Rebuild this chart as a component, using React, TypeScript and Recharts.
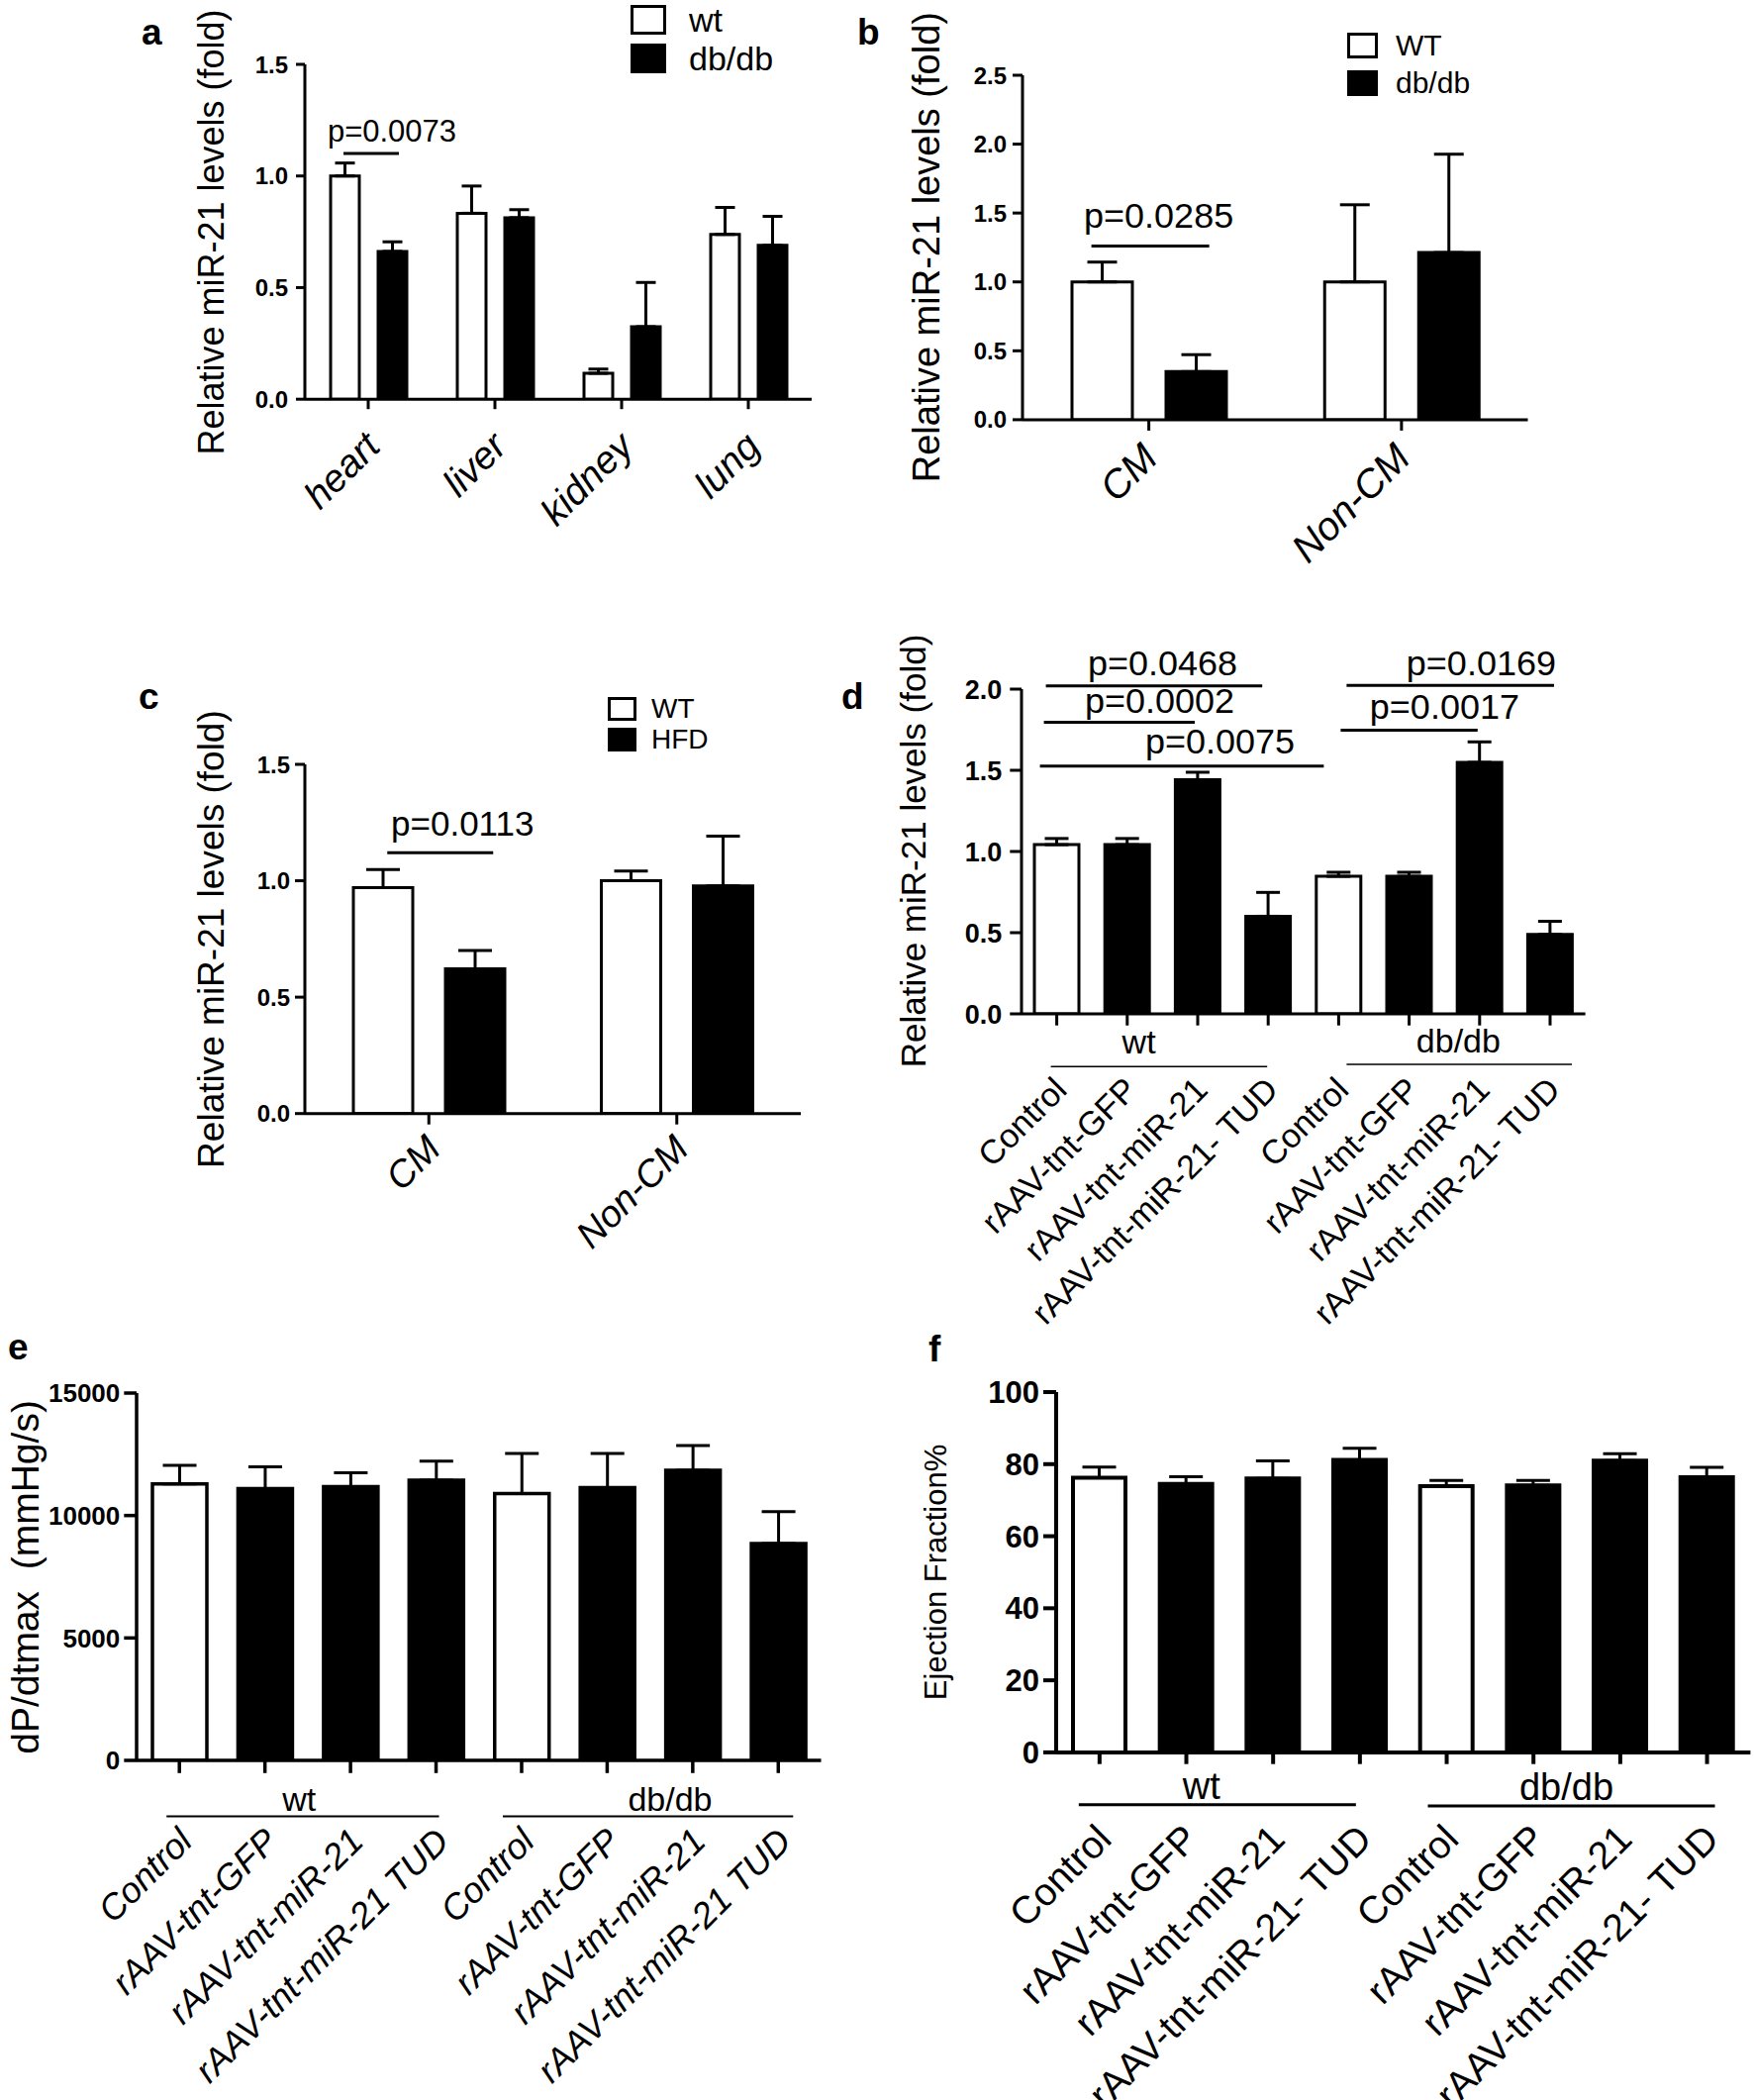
import React from 'react';
import { BarChart, Bar, XAxis, YAxis, ErrorBar, Cell, ReferenceLine, Legend } from 'recharts';

const FONT = '"Liberation Sans", Arial, Helvetica, sans-serif';

// a — miR-21 by organ (mean, upper SEM)
const organs = ['heart', 'liver', 'kidney', 'lung'];
const organWt = [1.0, 0.833, 0.116, 0.738];
const organWtSem = [0.058, 0.122, 0.019, 0.121];
const organDb = [0.662, 0.813, 0.325, 0.689];
const organDbSem = [0.043, 0.036, 0.198, 0.13];

// b — CM vs non-CM, db/db
const cellTypes = ['CM', 'Non-CM'];
const cellWtB = [1.0, 1.0];
const cellWtSemB = [0.144, 0.56];
const cellDbB = [0.349, 1.213];
const cellDbSemB = [0.123, 0.714];

// c — CM vs non-CM, HFD
const cellWtC = [0.971, 1.0];
const cellWtSemC = [0.077, 0.042];
const cellHfdC = [0.622, 0.978];
const cellHfdSemC = [0.078, 0.214];

// d, e, f — rAAV treatments
const groups = ['wt', 'db/db'];
const treatments = ['Control', 'rAAV-tnt-GFP', 'rAAV-tnt-miR-21', 'rAAV-tnt-miR-21- TUD'];
const treatmentsE = ['Control', 'rAAV-tnt-GFP', 'rAAV-tnt-miR-21', 'rAAV-tnt-miR-21 TUD'];
const mirLevel = [1.042, 1.042, 1.442, 0.601, 0.847, 0.847, 1.549, 0.489];
const mirLevelSem = [0.038, 0.038, 0.046, 0.147, 0.025, 0.025, 0.126, 0.081];
const dpdtMax = [11290, 11100, 11175, 11440, 10896, 11134, 11849, 8852];
const dpdtMaxSem = [763, 885, 572, 783, 1634, 1396, 1008, 1311];
const ejection = [76.2, 74.5, 76.0, 81.2, 73.9, 74.1, 81.0, 76.4];
const ejectionSem = [3.0, 2.0, 4.9, 3.2, 1.6, 1.4, 1.9, 2.7];

const ticksA = [0, 0.5, 1.0, 1.5];
const ticksB = [0, 0.5, 1.0, 1.5, 2.0, 2.5];
const ticksD = [0, 0.5, 1.0, 1.5, 2.0];
const ticksE = [0, 5000, 10000, 15000];
const ticksF = [0, 20, 40, 60, 80, 100];

const groupedRows = (cats: string[], a: number[], aSem: number[], b: number[], bSem: number[]) =>
  cats.map((c, i) => ({ key: c, a: a[i], aErr: [0, aSem[i]], b: b[i], bErr: [0, bSem[i]] }));

const treatRows = (names: string[], vals: number[], sems: number[]) =>
  groups.flatMap((g, gi) =>
    names.map((t, ti) => {
      const i = gi * names.length + ti;
      return { key: `${g}|${t}`, label: t, v: vals[i], err: [0, sems[i]], ctrl: ti === 0 };
    })
  );

const rowsA = groupedRows(organs, organWt, organWtSem, organDb, organDbSem);
const rowsB = groupedRows(cellTypes, cellWtB, cellWtSemB, cellDbB, cellDbSemB);
const rowsC = groupedRows(cellTypes, cellWtC, cellWtSemC, cellHfdC, cellHfdSemC);
const rowsD = treatRows(treatments, mirLevel, mirLevelSem);
const rowsE = treatRows(treatmentsE, dpdtMax, dpdtMaxSem);
const rowsF = treatRows(treatments, ejection, ejectionSem);

// significance bars and group underlines: category index from/to, y in data units,
// d1/d2 = nudge of the ends off the category centre, tdx = text centre from the "from" centre
const sigA = [{ from: 0, to: 0, d1: -25, d2: 31, y: 1.101, text: 'p=0.0073', tdx: 24, gap: 12 }];
const sigB = [{ from: 0, to: 0, d1: -58, d2: 61, y: 1.26, text: 'p=0.0285', tdx: 10, gap: 19 }];
const sigC = [{ from: 0, to: 0, d1: -42, d2: 65, y: 1.12, text: 'p=0.0113', tdx: 34, gap: 17 }];
const sigD = [
  { from: 0, to: 3, d1: -11, d2: -6, y: 2.02, text: 'p=0.0468', tdx: 107, gap: 11 },
  { from: 0, to: 2, d1: -13, d2: -3, y: 1.796, text: 'p=0.0002', tdx: 104, gap: 9 },
  { from: 0, to: 4, d1: -17, d2: -15, y: 1.526, text: 'p=0.0075', tdx: 165, gap: 13 },
  { from: 4, to: 7, d1: 8, d2: 4, y: 2.023, text: 'p=0.0169', tdx: 144, gap: 10 },
  { from: 4, to: 6, d1: 2, d2: -2, y: 1.747, text: 'p=0.0017', tdx: 107, gap: 11 },
];
const grpD = [
  { from: 0, to: 3, d1: -6, d2: -1, y: -0.325, text: 'wt', tdx: 83, gap: 13 },
  { from: 4, to: 7, d1: 8, d2: 22, y: -0.311, text: 'db/db', tdx: 121, gap: 12 },
];
const grpE = [
  { from: 0, to: 3, d1: -13, d2: 3, y: -2288, text: 'wt', tdx: 121, gap: 6 },
  { from: 4, to: 7, d1: -19, d2: 15, y: -2288, text: 'db/db', tdx: 150, gap: 6 },
];
const grpF = [
  { from: 0, to: 3, d1: -21, d2: -4, y: -14.5, text: 'wt', tdx: 103, gap: 6 },
  { from: 4, to: 7, d1: -19, d2: 8, y: -14.9, text: 'db/db', tdx: 121, gap: 6 },
];

type Frame = { axisX: number; top: number; bottom: number; right: number; yw: number; mt: number; xh: number; mr: number };

const fA: Frame = { axisX: 308, top: 65.4, bottom: 403.6, right: 820, yw: 120, mt: 62, xh: 135, mr: 10 };
const fB: Frame = { axisX: 1033, top: 75.7, bottom: 423.6, right: 1543.5, yw: 120, mt: 72, xh: 160, mr: 10 };
const fC: Frame = { axisX: 308, top: 772.2, bottom: 1124.9, right: 809, yw: 120, mt: 75, xh: 170, mr: 10 };
const fD: Frame = { axisX: 1032.4, top: 695.5, bottom: 1023.5, right: 1602, yw: 130, mt: 60, xh: 340, mr: 40 };
const fE: Frame = { axisX: 137.5, top: 1407.4, bottom: 1778.4, right: 829, yw: 137, mt: 30, xh: 342, mr: 10 };
const fF: Frame = { axisX: 1066.6, top: 1406, bottom: 1769.9, right: 1768, yw: 145, mt: 30, xh: 351, mr: 4 };

const oneDec = (v: number) => v.toFixed(1);
const plain = (v: number) => String(v);

function rotTick(dx: number, dy: number, size: number, italic: boolean, useLabel: boolean) {
  return (props: any) => {
    const { x, y, payload } = props;
    const v = useLabel ? String(payload.value).split('|')[1] : payload.value;
    return (
      <text
        transform={`translate(${x + dx},${y + dy}) rotate(-45)`}
        textAnchor="end"
        fontSize={size}
        fontStyle={italic ? 'italic' : 'normal'}
        fontFamily={FONT}
        fill="#000"
      >
        {v}
      </text>
    );
  };
}

function sigLabel(text: string, tdx: number, gap: number, size: number) {
  return (props: any) => {
    const vb = props.viewBox || { x: 0, y: 0 };
    return (
      <text x={vb.x + tdx} y={vb.y - gap} textAnchor="middle" fontSize={size} fontFamily={FONT} fill="#000">
        {text}
      </text>
    );
  };
}

function sigLines(list: any[], rows: any[], size: number, lw: number) {
  return list.map((s, i) => (
    <ReferenceLine
      key={`sig${s.text}${i}`}
      segment={[{ x: rows[s.from].key, y: s.y }, { x: rows[s.to].key, y: s.y }]}
      ifOverflow="visible"
      shape={(p: any) => (
        <line x1={p.x1 + s.d1} y1={p.y1} x2={p.x2 + s.d2} y2={p.y2} stroke="#000" strokeWidth={lw} />
      )}
      label={sigLabel(s.text, s.tdx, s.gap, size)}
    />
  ));
}

function legendBox(w: number, h: number, pitch: number, gapText: number, size: number) {
  return (props: any) => {
    const items = [...(props.payload || [])].sort((p: any, q: any) => String(p.dataKey).localeCompare(String(q.dataKey)));
    return (
      <div style={{ fontFamily: FONT, fontSize: size, lineHeight: 1, color: '#000' }}>
        {items.map((p: any) => (
          <div key={p.value} style={{ display: 'flex', alignItems: 'center', height: h, marginBottom: pitch - h }}>
            <div
              style={{
                width: w,
                height: h,
                boxSizing: 'border-box',
                border: '3px solid #000',
                background: (p.payload && p.payload.fill) || p.color,
              }}
            />
            <span style={{ marginLeft: gapText }}>{p.value}</span>
          </div>
        ))}
      </div>
    );
  };
}

type AxisCfg = {
  lw: number;
  xTick: number;
  yTick: number;
  tickGap: number;
  tickFont: number;
  max: number;
  ticks: number[];
  fmt: (v: number) => string;
  lab: { dx: number; dy: number; size: number; italic: boolean; useLabel: boolean };
};

function axes(f: Frame, c: AxisCfg) {
  const line = { stroke: '#000', strokeWidth: c.lw };
  return [
    <XAxis
      key="x"
      dataKey="key"
      interval={0}
      height={f.xh}
      axisLine={line}
      tickLine={line}
      tickSize={c.xTick}
      tickMargin={2}
      tick={rotTick(c.lab.dx, c.lab.dy, c.lab.size, c.lab.italic, c.lab.useLabel)}
    />,
    <YAxis
      key="y"
      width={f.yw}
      domain={[0, c.max]}
      ticks={c.ticks}
      interval={0}
      allowDataOverflow
      axisLine={line}
      tickLine={line}
      tickSize={c.yTick}
      tickMargin={c.tickGap}
      tickFormatter={c.fmt}
      tick={{ fill: '#000', fontSize: c.tickFont, fontWeight: 700, fontFamily: FONT }}
    />,
  ];
}

function Frame({ f, data, barSize, barGap, children }: any) {
  const width = f.right - f.axisX + f.yw + f.mr;
  const height = f.mt + (f.bottom - f.top) + f.xh;
  return (
    <div style={{ position: 'absolute', left: f.axisX - f.yw, top: f.top - f.mt }}>
      <BarChart
        width={width}
        height={height}
        data={data}
        margin={{ top: f.mt, right: f.mr, left: 0, bottom: 0 }}
        barSize={barSize}
        barGap={barGap}
      >
        {children}
      </BarChart>
    </div>
  );
}

function groupedBars(names: string[], size: number, cap: number, lw: number) {
  return [
    <Bar key="a" dataKey="a" name={names[0]} fill="#fff" stroke="#000" strokeWidth={lw} barSize={size} isAnimationActive={false}>
      <ErrorBar dataKey="aErr" width={cap} stroke="#000" strokeWidth={3} direction="y" />
    </Bar>,
    <Bar key="b" dataKey="b" name={names[1]} fill="#000" stroke="#000" strokeWidth={lw} barSize={size} isAnimationActive={false}>
      <ErrorBar dataKey="bErr" width={cap} stroke="#000" strokeWidth={3} direction="y" />
    </Bar>,
  ];
}

function treatBars(rows: any[], size: number, cap: number, lw: number) {
  return (
    <Bar key="v" dataKey="v" stroke="#000" strokeWidth={lw} barSize={size} isAnimationActive={false}>
      {rows.map((r) => (
        <Cell key={r.key} fill={r.ctrl ? '#fff' : '#000'} />
      ))}
      <ErrorBar dataKey="err" width={cap} stroke="#000" strokeWidth={3} direction="y" />
    </Bar>
  );
}

function legendAt(left: number, top: number, content: any) {
  return (
    <Legend
      key="legend"
      verticalAlign="middle"
      align="center"
      layout="horizontal"
      content={content}
      wrapperStyle={{ left, top, width: 260, height: 90 }}
    />
  );
}

const titles = [
  { f: fA, dist: 95, size: 36, text: 'Relative miR-21 levels (fold)' },
  { f: fB, dist: 97, size: 38, text: 'Relative miR-21 levels (fold)' },
  { f: fC, dist: 95, size: 37, text: 'Relative miR-21 levels (fold)' },
  { f: fD, dist: 110, size: 35, text: 'Relative miR-21 levels (fold)' },
  { f: fE, dist: 112, size: 39, text: 'dP/dtmax  (mmHg/s)' },
  { f: fF, dist: 121, size: 31, text: 'Ejection Fraction%' },
];

const letters = [
  { t: 'a', x: 143, y: 45 },
  { t: 'b', x: 866, y: 45 },
  { t: 'c', x: 140, y: 716 },
  { t: 'd', x: 850, y: 716 },
  { t: 'e', x: 8, y: 1373 },
  { t: 'f', x: 938, y: 1375 },
];

export default function App() {
  return (
    <div style={{ position: 'absolute', left: 0, top: 0, width: 1772, height: 2121, background: '#fff', overflow: 'hidden' }}>
      <Frame f={fA} data={rowsA} barSize={29} barGap={19}>
        {axes(fA, { lw: 3, xTick: 10, yTick: 9, tickGap: 8, tickFont: 24, max: 1.5, ticks: ticksA, fmt: oneDec, lab: { dx: 14, dy: 38, size: 39, italic: true, useLabel: false } })}
        {legendAt(449, 2, legendBox(36, 30, 38.5, 23, 34))}
        {groupedBars(['wt', 'db/db'], 29, 10, 3)}
        {sigLines(sigA, rowsA, 31, 3)}
      </Frame>

      <Frame f={fB} data={rowsB} barSize={61} barGap={34}>
        {axes(fB, { lw: 3, xTick: 11, yTick: 10, tickGap: 6, tickFont: 24, max: 2.5, ticks: ticksB, fmt: oneDec, lab: { dx: 11, dy: 28, size: 40, italic: true, useLabel: false } })}
        {legendAt(448, 29, legendBox(31, 26, 38.5, 18, 30))}
        {groupedBars(['WT', 'db/db'], 61, 15, 3)}
        {sigLines(sigB, rowsB, 36, 3)}
      </Frame>

      <Frame f={fC} data={rowsC} barSize={60} barGap={33}>
        {axes(fC, { lw: 3, xTick: 11, yTick: 10, tickGap: 5, tickFont: 24, max: 1.5, ticks: ticksA, fmt: oneDec, lab: { dx: 14, dy: 25, size: 38, italic: true, useLabel: false } })}
        {legendAt(426, 7, legendBox(29, 24, 30.5, 15, 28))}
        {groupedBars(['WT', 'HFD'], 60, 17, 3)}
        {sigLines(sigC, rowsC, 35, 3)}
      </Frame>

      <Frame f={fD} data={rowsD} barSize={45}>
        {axes(fD, { lw: 3, xTick: 11.7, yTick: 11.7, tickGap: 8, tickFont: 27, max: 2, ticks: ticksD, fmt: oneDec, lab: { dx: 12, dy: 65, size: 34, italic: false, useLabel: true } })}
        {treatBars(rowsD, 45, 12, 3)}
        {sigLines(sigD, rowsD, 36, 3)}
        {sigLines(grpD, rowsD, 34, 1.5)}
      </Frame>

      <Frame f={fE} data={rowsE} barSize={55}>
        {axes(fE, { lw: 3.5, xTick: 12.8, yTick: 12.7, tickGap: 4, tickFont: 26, max: 15000, ticks: ticksE, fmt: plain, lab: { dx: 15, dy: 69, size: 36, italic: true, useLabel: true } })}
        {treatBars(rowsE, 55, 17, 3.5)}
        {sigLines(grpE, rowsE, 34, 2)}
      </Frame>

      <Frame f={fF} data={rowsF} barSize={53}>
        {axes(fF, { lw: 4, xTick: 11.8, yTick: 13, tickGap: 4, tickFont: 31, max: 100, ticks: ticksF, fmt: plain, lab: { dx: 14, dy: 76, size: 39, italic: false, useLabel: true } })}
        {treatBars(rowsF, 53, 17, 4)}
        {sigLines(grpF, rowsF, 38, 3)}
      </Frame>

      <svg width={1772} height={2121} style={{ position: 'absolute', left: 0, top: 0, pointerEvents: 'none' }}>
        {letters.map((l) => (
          <text key={l.t} x={l.x} y={l.y} fontSize={37} fontWeight={700} fontFamily={FONT} fill="#000">
            {l.t}
          </text>
        ))}
        {titles.map((t, i) => {
          const cx = t.f.axisX - t.dist;
          const cy = (t.f.top + t.f.bottom) / 2;
          return (
            <text
              key={i}
              transform={`translate(${cx},${cy}) rotate(-90)`}
              textAnchor="middle"
              dominantBaseline="central"
              fontSize={t.size}
              fontFamily={FONT}
              fill="#000"
              style={{ whiteSpace: 'pre' }}
            >
              {t.text}
            </text>
          );
        })}
      </svg>
    </div>
  );
}
